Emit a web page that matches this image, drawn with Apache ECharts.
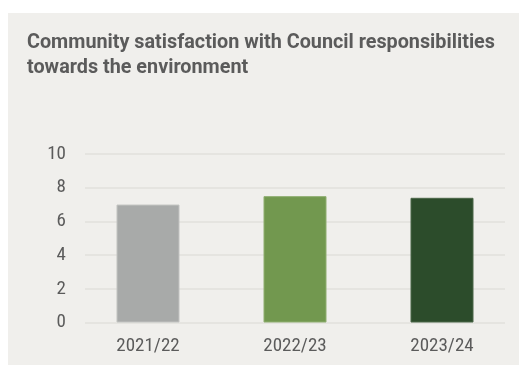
<!DOCTYPE html>
<html>
<head>
<meta charset="utf-8">
<script src="https://cdn.jsdelivr.net/npm/echarts@6/dist/echarts.min.js"></script>
<style>
  html, body { margin: 0; padding: 0; background: #ffffff; }
  #panel { position: absolute; left: 8px; top: 13px; width: 511px; height: 352px; background: #f0efec; }
  #chart { position: absolute; left: 0; top: 0; width: 519px; height: 365px; }
</style>
</head>
<body>
<div id="panel"></div>
<div id="chart"></div>
<script>
// Survey years and satisfaction scores (out of 10)
const years = ['2021/22', '2022/23', '2023/24'];
const scores = [7.0, 7.5, 7.4];
const barColors = ['#a8aaa9', '#72984f', '#2c4c2b'];
const borderColors = ['#c2c3c1', '#8fae70', '#4a6649'];
const titleText = 'Community satisfaction with Council responsibilities\ntowards the environment';

const chart = echarts.init(document.getElementById('chart'), null, { renderer: 'canvas' });

const labelFont = '"Roboto Condensed", "Liberation Sans", sans-serif';

chart.setOption({
  backgroundColor: 'transparent',
  animation: false,
  title: {
    text: titleText,
    left: 22,
    top: 26,
    textStyle: {
      fontFamily: 'Roboto, sans-serif',
      fontWeight: 'bold',
      fontSize: 19.8,
      lineHeight: 24.5,
      color: '#5b5b5b'
    }
  },
  grid: [
    { left: 74.5, right: 3.5, top: 154, bottom: 42.5 },
    { left: 85, right: 14, top: 154, bottom: 42.5 }
  ],
  xAxis: [
    {
      type: 'category',
      gridIndex: 0,
      data: years,
      axisLine: { show: false },
      axisTick: { show: false },
      axisLabel: {
        margin: 14,
        fontFamily: labelFont,
        fontSize: 19,
        color: '#5b5b5b'
      }
    },
    {
      type: 'value',
      gridIndex: 1,
      show: false
    }
  ],
  yAxis: [
    {
      type: 'value',
      gridIndex: 0,
      min: 0,
      max: 10,
      interval: 2,
      show: false
    },
    {
      type: 'value',
      gridIndex: 1,
      min: 0,
      max: 10,
      interval: 2,
      axisLine: { show: false },
      axisTick: { show: false },
      axisLabel: {
        margin: 19,
        fontFamily: labelFont,
        fontSize: 19,
        color: '#5b5b5b'
      },
      splitLine: { lineStyle: { color: '#e2e1dd', width: 1.5 } }
    }
  ],
  series: [
    {
      type: 'bar',
      xAxisIndex: 0,
      yAxisIndex: 0,
      barWidth: 63,
      z: 3,
      data: scores.map((v, i) => ({
        value: v,
        itemStyle: { color: barColors[i], borderColor: borderColors[i], borderWidth: 1 }
      }))
    }
  ]
});
</script>
</body>
</html>
